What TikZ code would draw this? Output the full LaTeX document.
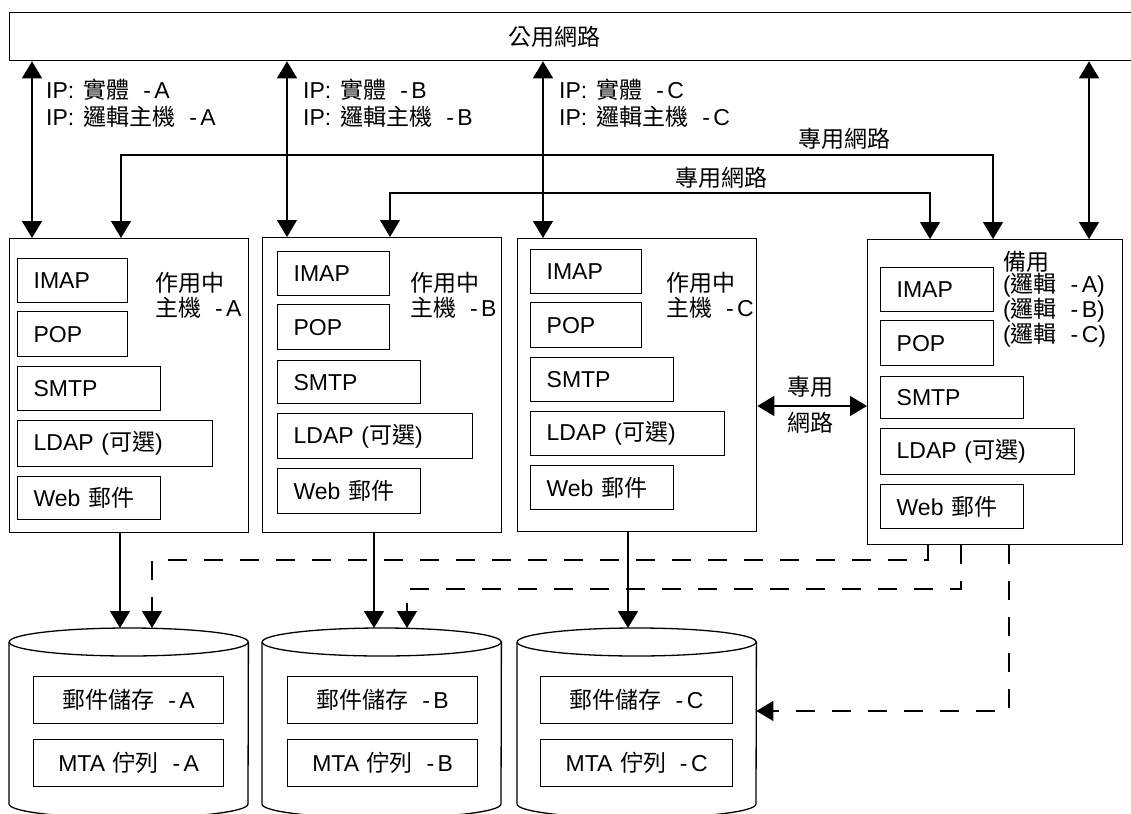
\documentclass[tikz,border=0pt]{standalone}
\usepackage{fontspec}
\setmainfont{Liberation Sans}
\newfontfamily\cjk{Noto Sans CJK TC}
\usetikzlibrary{arrows.meta}
\newcommand{\zh}[1]{{\cjk #1}}
\newcommand{\dsh}{\hspace{0.6em}-\hspace{0.15em}}
\newcommand{\ipp}{IP:\hspace{0.4em}}
\newcommand{\fs}{\fontsize{23pt}{25pt}\selectfont}
\tikzset{
  hostbox/.style={draw, line width=1.3pt, anchor=north west, inner sep=0pt},
  ibox/.style={draw, line width=1.3pt, anchor=north west, align=left, inner xsep=16pt, inner ysep=1pt, minimum height=44pt, font=\fs},
  cbox/.style={draw, line width=1.3pt, anchor=north west, align=center, inner xsep=0pt, inner ysep=1pt, minimum height=47pt, text width=190pt, font=\fs},
  cylnode/.style={anchor=north west, minimum width=239pt, minimum height=200pt, inner sep=0pt},
  lbl/.style={font=\fs, inner sep=0pt},
  bi/.style={line width=1.3pt, {Triangle[length=17pt,width=20pt]}-{Triangle[length=17pt,width=20pt]}},
  arr/.style={line width=1.3pt, -{Triangle[length=17pt,width=20pt]}},
  darr/.style={arr, dash pattern=on 19pt off 17pt},
  cylline/.style={line width=1.3pt}
}
\newcommand{\cylout}[1]{%
  \draw[cylline] ([yshift=-14pt]#1.north) ellipse [x radius=119.5pt, y radius=14pt];
  \draw[cylline] ([yshift=-14pt]#1.north west) -- ([yshift=-176pt]#1.north west)
     arc[start angle=180, end angle=360, x radius=119.5pt, y radius=14pt]
     -- ([yshift=-14pt]#1.north east);}
\begin{document}
\begin{tikzpicture}[x=1pt,y=-1pt]
\useasboundingbox (0,0) rectangle (1131,813);
\clip (0,0) rectangle (1131,813);
\fill[white] (0,0) rectangle (1131,813);

% public network
\node[draw, line width=1.3pt, anchor=north west, minimum width=1130pt, minimum height=48pt, inner sep=0pt] (net) at (9,12) {};
\node[lbl] (netlbl) at (554,37) {\zh{公用網路}};

% hosts
\node[hostbox, minimum width=239pt, minimum height=294pt] (hostA) at (9,238) {};
\node[hostbox, minimum width=239pt, minimum height=295pt] (hostB) at (262,237) {};
\node[hostbox, minimum width=239pt, minimum height=293pt] (hostC) at (517,238) {};
\node[hostbox, minimum width=255pt, minimum height=305pt] (standby) at (867,239) {};

% host A services
\node[ibox, text width=78pt] (imapA) at (17,258) {IMAP};
\node[ibox, text width=78pt, minimum height=45pt] (popA) at (17,311) {POP};
\node[ibox, text width=111pt] (smtpA) at (17,366) {SMTP};
\node[ibox, text width=163pt, minimum height=46pt] (ldapA) at (17,420) {LDAP (\zh{可選})};
\node[ibox, text width=111pt, minimum height=43pt] (webA) at (17,476) {Web \zh{郵件}};
% host B services
\node[ibox, text width=80pt] (imapB) at (277,251) {IMAP};
\node[ibox, text width=80pt, minimum height=45pt] (popB) at (277,304) {POP};
\node[ibox, text width=111pt, minimum height=43pt] (smtpB) at (277,360) {SMTP};
\node[ibox, text width=163pt, minimum height=45pt] (ldapB) at (277,413) {LDAP (\zh{可選})};
\node[ibox, text width=111pt, minimum height=45pt] (webB) at (277,468) {Web \zh{郵件}};
% host C services
\node[ibox, text width=79pt] (imapC) at (530,249) {IMAP};
\node[ibox, text width=79pt, minimum height=45pt] (popC) at (530,302) {POP};
\node[ibox, text width=111pt] (smtpC) at (530,357) {SMTP};
\node[ibox, text width=162pt] (ldapC) at (530,411) {LDAP (\zh{可選})};
\node[ibox, text width=111pt] (webC) at (530,465) {Web \zh{郵件}};
% standby services
\node[ibox, text width=81pt] (imapS) at (880,267) {IMAP};
\node[ibox, text width=81pt, minimum height=45pt] (popS) at (880,320) {POP};
\node[ibox, text width=111pt, minimum height=42pt] (smtpS) at (880,376) {SMTP};
\node[ibox, text width=162pt, minimum height=46pt] (ldapS) at (880,428) {LDAP (\zh{可選})};
\node[ibox, text width=111pt] (webS) at (880,484) {Web \zh{郵件}};

% host labels
\node[lbl, anchor=west, align=left] (labA) at (155,295.5) {\zh{作用中}\\\zh{主機}\dsh A};
\node[lbl, anchor=west, align=left] (labB) at (410,295.5) {\zh{作用中}\\\zh{主機}\dsh B};
\node[lbl, anchor=west, align=left] (labC) at (666,295.5) {\zh{作用中}\\\zh{主機}\dsh C};
\node[lbl, anchor=west, align=left, font={\fontsize{23pt}{22pt}\selectfont}] (labS) at (1003,299)
  {\zh{備用}\\(\zh{邏輯}\dsh A)\\(\zh{邏輯}\dsh B)\\(\zh{邏輯}\dsh C)};

% IP labels
\node[lbl, anchor=west, align=left, font={\fontsize{23pt}{27pt}\selectfont}] (ipA) at (46,103.5) {\ipp\zh{實體}\dsh A\\\ipp\zh{邏輯主機}\dsh A};
\node[lbl, anchor=west, align=left, font={\fontsize{23pt}{27pt}\selectfont}] (ipB) at (303,103.5) {\ipp\zh{實體}\dsh B\\\ipp\zh{邏輯主機}\dsh B};
\node[lbl, anchor=west, align=left, font={\fontsize{23pt}{27pt}\selectfont}] (ipC) at (559,103.5) {\ipp\zh{實體}\dsh C\\\ipp\zh{邏輯主機}\dsh C};

% private network labels
\node[lbl] (pnU) at (844,139) {\zh{專用網路}};
\node[lbl] (pnL) at (721,178) {\zh{專用網路}};
\node[lbl] (pnM1) at (810,387) {\zh{專用}};
\node[lbl] (pnM2) at (810,423) {\zh{網路}};

% cylinders
\node[cylnode] (cylA) at (9,628) {};
\node[cylnode] (cylB) at (262,628) {};
\node[cylnode] (cylC) at (517,628) {};
\cylout{cylA}
\cylout{cylB}
\cylout{cylC}
\node[cbox] (storeA) at (33,676) {\zh{郵件儲存}\dsh A};
\node[cbox] (mtaA) at (33,739) {MTA \zh{佇列}\dsh A};
\node[cbox] (storeB) at (287,676) {\zh{郵件儲存}\dsh B};
\node[cbox] (mtaB) at (287,739) {MTA \zh{佇列}\dsh B};
\node[cbox, text width=192pt] (storeC) at (540,676) {\zh{郵件儲存}\dsh C};
\node[cbox, text width=192pt] (mtaC) at (540,739) {MTA \zh{佇列}\dsh C};

% helper coordinates
\coordinate (xa) at (32,0);
\coordinate (xb) at (287,0);
\coordinate (xc) at (543,0);
\coordinate (xs) at (1089,0);
\coordinate (pu1) at (121,155);
\coordinate (pu2) at (993,155);
\coordinate (pl1) at (390,193);
\coordinate (pl2) at (930,193);
\coordinate (pm) at (810,406);
\coordinate (sa) at (120,0);
\coordinate (sb) at (374,0);
\coordinate (sc) at (628,0);
\coordinate (d1a) at (928,560);
\coordinate (d1b) at (152,560);
\coordinate (d2a) at (961,589);
\coordinate (d2b) at (407,589);
\coordinate (d3a) at (1009,711);

% public links
\draw[bi] (net.south -| xa) -- (hostA.north -| xa);
\draw[bi] (net.south -| xb) -- (hostB.north -| xb);
\draw[bi] (net.south -| xc) -- (hostC.north -| xc);
\draw[bi] (net.south -| xs) -- (standby.north -| xs);

% private links
\draw[bi] (hostA.north -| pu1) |- (pu2) -- (standby.north -| pu2);
\draw[bi] (hostB.north -| pl1) |- (pl2) -- (standby.north -| pl2);
\draw[bi] (hostC.east |- pm) -- (standby.west |- pm);

% store links
\draw[arr] (hostA.south -| sa) -- (cylA.north -| sa);
\draw[arr] (hostB.south -| sb) -- (cylB.north -| sb);
\draw[arr] (hostC.south -| sc) -- (cylC.north -| sc);
\draw[darr] (standby.south -| d1a) |- (d1b) -- (cylA.north -| d1b);
\draw[darr] (standby.south -| d2a) |- (d2b) -- (cylB.north -| d2b);
\draw[darr] (standby.south -| d3a) |- (cylC.east |- d3a);
\end{tikzpicture}
\end{document}
